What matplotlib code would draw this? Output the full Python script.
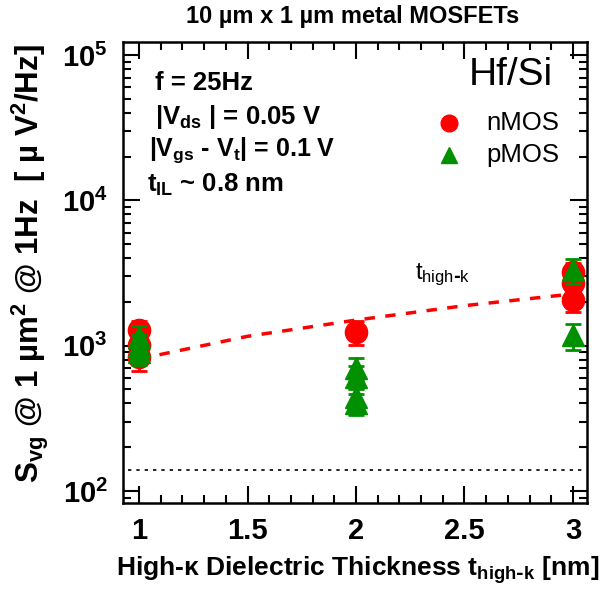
import numpy as np
import matplotlib
matplotlib.use("Agg")
import matplotlib.pyplot as plt
from matplotlib.ticker import MultipleLocator, LogLocator, NullFormatter

# nMOS / pMOS 1/f ノイズ (10 um x 1 um)
n_x = [1, 1, 1, 2, 3, 3, 3]
n_y = [1280, 1010, 840, 1240, 3200, 2700, 2060]
n_err = [200, 160, 170, 230, 500, 420, 360]

p_x = [1, 1, 1, 2, 2, 2, 2, 3, 3]
p_y = [1150, 1000, 900, 700, 610, 440, 400, 3300, 1180]
p_err = [220, 180, 160, 120, 110, 75, 67, 650, 240]

# t_high-k に比例するモデル線
fit_x = [1, 1.5, 2, 2.5, 3]
fit_y = [810, 1160, 1500, 1885, 2270]

floor_y = 140   # 測定系のノイズフロア

RED = "#ff0000"
GREEN = "#009000"


def main():
    plt.rcParams["font.family"] = ["Liberation Sans", "DejaVu Sans"]
    plt.rcParams["font.weight"] = "bold"
    plt.rcParams["mathtext.default"] = "regular"

    fig = plt.figure(figsize=(6.15, 5.96), dpi=100)
    ax = fig.add_axes([0.2, 0.156, 0.7545, 0.7735])

    ax.set_yscale("log")
    ax.set_xlim(0.926, 3.065)
    ax.set_ylim(82.6, 1.23e5)

    # 下限線とモデル線
    ax.hlines(floor_y, 0.95, 3.04, colors="black", linestyles=(0, (2, 3)), linewidth=1.2)
    ax.plot(fit_x, fit_y, color=RED, linestyle=(0, (3, 3)), linewidth=2.5, zorder=2)

    ax.errorbar(n_x, n_y, yerr=n_err, fmt="o", color=RED, ms=16, capsize=6,
                elinewidth=2, capthick=2, zorder=3)
    ax.errorbar(p_x, p_y, yerr=p_err, fmt="^", color=GREEN, ms=16, capsize=6,
                elinewidth=2, capthick=2, zorder=4)

    ax.text(2.27, 3070, "t$_{high\\text{-}k}$", fontsize=17, fontweight="normal",
            ha="left", va="center")

    # 条件の注記
    ax.text(0.069, 0.911, "f = 25Hz", transform=ax.transAxes, fontsize=18.5, va="center")
    ax.text(0.069, 0.837, "|V$_{ds}$ | = 0.05 V", transform=ax.transAxes, fontsize=18.5, va="center")
    ax.text(0.056, 0.766, "|V$_{gs}$ - V$_{t}$| = 0.1 V", transform=ax.transAxes, fontsize=18, va="center")
    ax.text(0.052, 0.69, "t$_{IL}$ ~ 0.8 nm", transform=ax.transAxes, fontsize=18.5, va="center")
    ax.text(0.927, 0.928, "Hf/Si", transform=ax.transAxes, fontsize=28, fontweight="normal",
            ha="right", va="center")

    # 凡例 (手書き)
    ax.plot([0.703], [0.824], "o", color=RED, ms=12, transform=ax.transAxes, clip_on=False)
    ax.plot([0.703], [0.755], "^", color=GREEN, ms=12, transform=ax.transAxes, clip_on=False)
    ax.text(0.784, 0.824, "nMOS", transform=ax.transAxes, fontsize=18.5, fontweight="normal", va="center")
    ax.text(0.784, 0.755, "pMOS", transform=ax.transAxes, fontsize=18.5, fontweight="normal", va="center")

    # 目盛り
    ax.xaxis.set_major_locator(MultipleLocator(0.5))
    ax.xaxis.set_minor_locator(MultipleLocator(0.1))
    ax.xaxis.set_major_formatter(plt.FuncFormatter(lambda v, p: "%g" % v))
    ax.yaxis.set_major_locator(LogLocator(base=10, numticks=10))
    ax.yaxis.set_minor_locator(LogLocator(base=10, subs=np.arange(2, 10), numticks=20))
    ax.yaxis.set_minor_formatter(NullFormatter())
    ax.tick_params(which="both", direction="in", top=True, right=True, width=1.5)
    ax.tick_params(which="major", length=12, labelsize=21)
    ax.tick_params(which="minor", length=6)
    ax.tick_params(axis="x", which="major", pad=10)
    ax.tick_params(axis="y", which="major", pad=11)
    for s in ax.spines.values():
        s.set_linewidth(1.8)

    fig.text(0.573, 0.972, "10 µm x 1 µm metal MOSFETs", fontsize=17, ha="center", va="center")
    fig.text(0.975, 0.044, "High-κ Dielectric Thickness t$_{high\\text{-}k}$ [nm]", fontsize=19,
             ha="right", va="center")
    fig.text(0.049, 0.925, "S$_{vg}$ @ 1 µm$^{2}$ @ 1Hz  [ µ V$^{2}$/Hz]", fontsize=22.5,
             rotation=90, ha="center", va="top")

    fig.savefig("out.png", dpi=100)


if __name__ == "__main__":
    main()
